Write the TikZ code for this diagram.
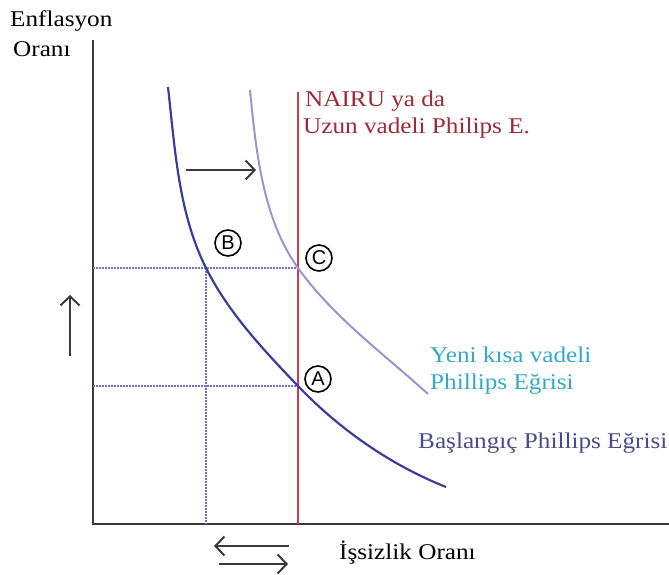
\documentclass[tikz,border=0pt]{standalone}
\usepackage{fontspec}
\setmainfont[FakeStretch=1.12]{Liberation Serif}
\newfontfamily\lblfont{Liberation Sans}
\usetikzlibrary{arrows.meta}
\definecolor{axisc}{HTML}{3A3A3A}
\definecolor{origc}{HTML}{3C3C9C}
\definecolor{newc}{HTML}{9A94D0}
\definecolor{nairuc}{HTML}{C83C50}
\definecolor{nairut}{HTML}{A02838}
\definecolor{dotc}{HTML}{7070D0}
\definecolor{cyant}{HTML}{35A8C8}
\definecolor{baslt}{HTML}{4B4B8C}
\tikzset{
  txt/.style={font=\fontsize{22.5}{24}\selectfont, inner sep=0pt, anchor=base west},
  pt/.style={circle, draw=black, line width=1.6pt, minimum size=26pt, inner sep=0pt, font=\lblfont\fontsize{20}{20}\selectfont},
  axisline/.style={draw=axisc, line width=2.4pt},
  guide/.style={draw=dotc, line width=1.8pt, dash pattern=on 1.6pt off 1.4pt},
  shiftarrow/.style={draw=axisc, line width=2pt, -{Straight Barb[length=9pt,width=19pt,line width=2pt]}},
}
\begin{document}
\begin{tikzpicture}[x=1pt,y=-1pt]
\useasboundingbox (0,0) rectangle (669,575);
% axes
\coordinate (O) at (93,524);
\coordinate (ytop) at (93,40);
\coordinate (xend) at (669,524);
\draw[axisline] (ytop) -- (O) -- (xend);
% guides
\coordinate (gC0) at (93,268);
\coordinate (gC1) at (298,268);
\coordinate (gA0) at (93,386);
\coordinate (gA1) at (298,386);
\coordinate (gB0) at (206,268);
\coordinate (gB1) at (206,524);
\draw[guide] (gC0) -- (gC1);
\draw[guide] (gA0) -- (gA1);
\draw[guide] (gB0) -- (gB1);
% NAIRU line
\coordinate (ntop) at (298,92);
\coordinate (nbot) at (298,524);
\draw[draw=nairuc, line width=2.2pt] (ntop) -- (nbot);
% curves
\coordinate (n0) at (250,90);
\coordinate (nC) at (298,268);
\coordinate (n2) at (428,394);
\draw[draw=newc, line width=2pt] (n0) .. controls (256,151) and (262.6,218.6) .. (nC)
  .. controls (332.8,316.6) and (383.6,353.8) .. (n2);
\coordinate (o0) at (168,87);
\coordinate (oB) at (206,268);
\coordinate (oA) at (298,386);
\coordinate (o3) at (446,487);
\draw[draw=origc, line width=2.2pt] (o0) .. controls (175,148.7) and (178.3,212.6) .. (oB)
  .. controls (228.4,312.7) and (263.5,350) .. (oA)
  .. controls (339.4,429.2) and (390.2,464.8) .. (o3);
% points
\node[pt] (B) at (228,243) {B};
\node[pt] (C) at (319,258) {C};
\node[pt] (A) at (318,379) {A};
% shift arrows
\coordinate (r0) at (186,170);
\coordinate (r1) at (256,170);
\draw[shiftarrow] (r0) -- (r1);
\coordinate (u0) at (70,356);
\coordinate (u1) at (70,295);
\draw[shiftarrow] (u0) -- (u1);
\coordinate (l0) at (289,546);
\coordinate (l1) at (214,546);
\draw[shiftarrow] (l0) -- (l1);
\coordinate (rr0) at (219,564);
\coordinate (rr1) at (288,564);
\draw[shiftarrow] (rr0) -- (rr1);
% labels
\node[txt] (ylab1) at (10,27) {Enflasyon};
\node[txt] (ylab2) at (13,57) {Oranı};
\node[txt, text=nairut] (n1) at (305,107) {NAIRU ya da};
\node[txt, text=nairut] (n2l) at (303,134) {Uzun vadeli Philips E.};
\node[txt, text=cyant] (y1) at (430,362) {Yeni kısa vadeli};
\node[txt, text=cyant] (y2) at (430,389) {Phillips Eğrisi};
\node[txt, text=baslt] (b1) at (418,448) {Başlangıç Phillips Eğrisi};
\node[txt] (xlab) at (339,559) {İşsizlik Oranı};
\end{tikzpicture}
\end{document}
